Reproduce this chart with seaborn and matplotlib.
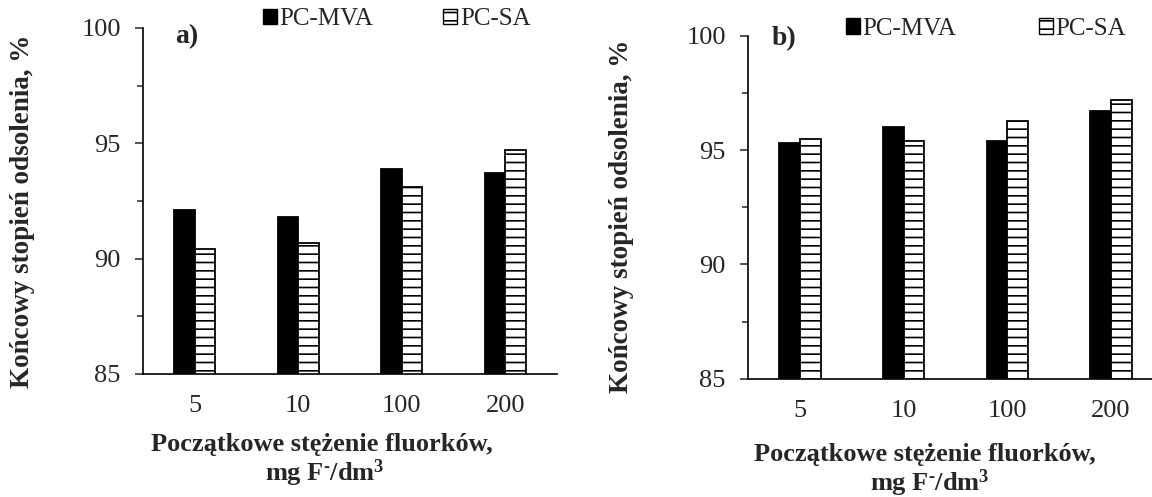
import matplotlib
matplotlib.use("Agg")
import matplotlib.pyplot as plt
from matplotlib.patches import Patch
from matplotlib.ticker import MultipleLocator
import seaborn as sns
import pandas as pd

# data
concentrations = ["5", "10", "100", "200"]
series = ["PC-MVA", "PC-SA"]
desal_a_mva = [92.1, 91.8, 93.9, 93.7]
desal_a_sa = [90.4, 90.7, 93.1, 94.7]
desal_b_mva = [95.3, 96.0, 95.4, 96.7]
desal_b_sa = [95.5, 95.4, 96.3, 97.2]

sns.set_style("white")
plt.rcParams["font.family"] = ["Liberation Serif", "DejaVu Serif"]
plt.rcParams["mathtext.fontset"] = "custom"
plt.rcParams["mathtext.rm"] = "Liberation Serif:bold"
plt.rcParams["mathtext.bf"] = "Liberation Serif:bold"
plt.rcParams["mathtext.it"] = "Liberation Serif:bold:italic"
plt.rcParams["hatch.linewidth"] = 1.2


def make_frame(mva, sa):
    return pd.DataFrame({
        "Stezenie": concentrations * 2,
        "Seria": [series[0]] * len(mva) + [series[1]] * len(sa),
        "Odsolenie": list(mva) + list(sa),
    })


def draw_panel(ax, df, legend_anchor, colspacing):
    sns.barplot(data=df, x="Stezenie", y="Odsolenie", hue="Seria",
                hue_order=series, order=concentrations,
                palette=["black", "white"], width=0.4, gap=0,
                edgecolor="black", linewidth=1.3, legend=False, ax=ax)
    for bar in ax.containers[1]:
        bar.set_hatch("--")
        bar.set_facecolor("white")

    ax.set_ylim(85, 100)
    ax.yaxis.set_major_locator(MultipleLocator(5))
    ax.yaxis.set_minor_locator(MultipleLocator(2.5))
    ax.set_xlabel("")
    ax.set_ylabel("")
    sns.despine(ax=ax)
    for side in ["left", "bottom"]:
        ax.spines[side].set_linewidth(1.2)
        ax.spines[side].set_color("black")

    ax.tick_params(axis="y", which="major", direction="out", length=6,
                   width=1.1, pad=10, labelsize=19, left=True)
    ax.tick_params(axis="y", which="minor", direction="out", length=4,
                   width=1.1, left=True)
    ax.tick_params(axis="x", length=0, pad=15, labelsize=19)

    handles = [Patch(facecolor="black", edgecolor="black", label=series[0]),
               Patch(facecolor="white", edgecolor="black", hatch="--",
                     label=series[1])]
    ax.legend(handles=handles, loc="upper left", ncol=2, frameon=False,
              fontsize=18, handlelength=0.56, handleheight=0.56,
              handletextpad=0.1, columnspacing=colspacing, borderpad=0,
              borderaxespad=0, bbox_to_anchor=legend_anchor,
              bbox_transform=ax.figure.transFigure)


fig = plt.figure(figsize=(11.52, 4.97), dpi=100)
ax_a = fig.add_axes([0.1241, 0.2475, 0.3594, 0.6962])
ax_b = fig.add_axes([0.6493, 0.2380, 0.3602, 0.6896])

draw_panel(ax_a, make_frame(desal_a_mva, desal_a_sa), (0.2283, 0.984), 2.8)
draw_panel(ax_b, make_frame(desal_b_mva, desal_b_sa), (0.7344, 0.964), 3.3)

W, H = 1152, 497
fig.text(175 / W, 1 - 37 / H, "a)", fontsize=20, fontweight="bold",
         ha="left", va="center")
fig.text(772 / W, 1 - 39 / H, "b)", fontsize=20, fontweight="bold",
         ha="left", va="center")

ylab = "Końcowy stopień odsolenia, %"
fig.text(23 / W, 1 - 211 / H, ylab, rotation=90, fontsize=19.5,
         fontweight="bold", ha="center", va="center")
fig.text(621 / W, 1 - 216 / H, ylab, rotation=90, fontsize=19.5,
         fontweight="bold", ha="center", va="center")

xlab1 = "Początkowe stężenie fluorków,"
xlab2 = r"mg F$^{\text{-}}$/dm$^{3}$"
fig.text(322 / W, 1 - 445 / H, xlab1, fontsize=19, fontweight="bold",
         ha="center", va="center")
fig.text(325 / W, 1 - 473 / H, xlab2, fontsize=19, fontweight="bold",
         ha="center", va="center")
fig.text(925 / W, 1 - 455 / H, xlab1, fontsize=19, fontweight="bold",
         ha="center", va="center")
fig.text(930 / W, 1 - 483 / H, xlab2, fontsize=19, fontweight="bold",
         ha="center", va="center")

fig.savefig("out.png", dpi=100)
plt.close(fig)
